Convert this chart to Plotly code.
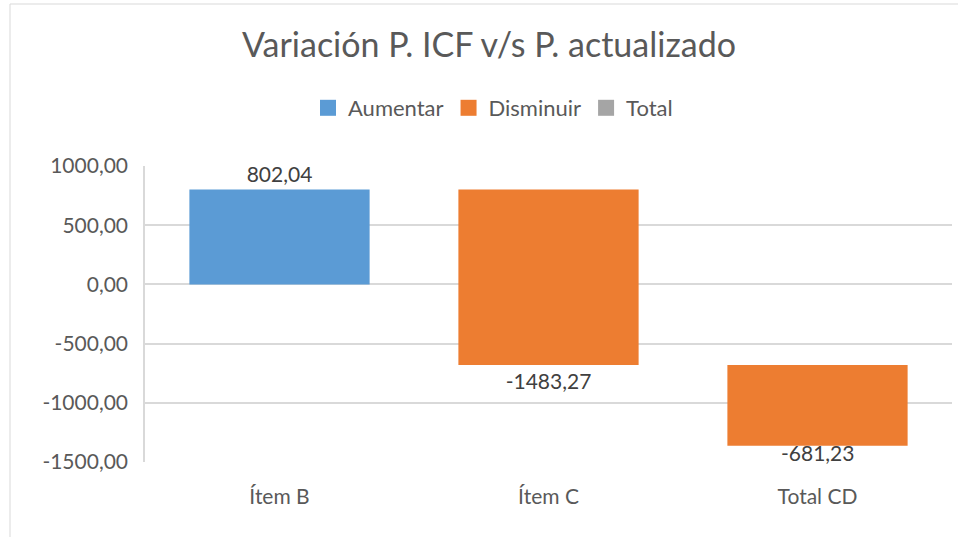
import plotly.graph_objects as go

categories = ["Ítem B", "Ítem C", "Total CD"]
changes = [802.04, -1483.27, -681.23]
series_names = ["Aumentar", "Disminuir", "Total"]
colors = {"Aumentar": "#5B9BD5", "Disminuir": "#ED7D31", "Total": "#A5A5A5"}
y_ticks = [1000, 500, 0, -500, -1000, -1500]

# running base for each step
bases = []
run = 0.0
for v in changes:
    bases.append(run)
    run += v

def fmt(v):
    return f"{v:.2f}".replace(".", ",")

FONT = "Lato"
TXT = "#595959"
LBL = "#404040"

fig = go.Figure()
inc_idx = [i for i, v in enumerate(changes) if v >= 0]
dec_idx = [i for i, v in enumerate(changes) if v < 0]
last = len(changes) - 1

fig.add_trace(go.Bar(
    name="Aumentar", showlegend=False,
    x=[categories[i] for i in inc_idx],
    y=[changes[i] for i in inc_idx],
    base=[bases[i] for i in inc_idx],
    text=[fmt(changes[i]) for i in inc_idx],
    textposition="outside", cliponaxis=False,
    textfont=dict(family=FONT, size=21, color=LBL),
    marker=dict(color=colors["Aumentar"], line=dict(width=0)),
    width=0.67,
))
fig.add_trace(go.Bar(
    name="Disminuir", showlegend=False,
    x=[categories[i] for i in dec_idx],
    y=[changes[i] for i in dec_idx],
    base=[bases[i] for i in dec_idx],
    text=[fmt(changes[i]) if i != last else "" for i in dec_idx],
    textposition="outside", cliponaxis=False,
    textfont=dict(family=FONT, size=21, color=LBL),
    marker=dict(color=colors["Disminuir"], line=dict(width=0)),
    width=0.67,
))
# legend-only entries
for name in series_names:
    fig.add_trace(go.Scatter(
        name=name, x=[categories[0]], y=[None], mode="markers",
        marker=dict(symbol="square", size=20, color=colors[name]),
        showlegend=True,
    ))

W, H = 958, 537
L, R, T, B = 145, 6, 166, 75
pw, ph = W - L - R, H - T - B

def px_x(x):
    return (x - L) / pw

def px_y(y):
    return (H - B - y) / ph

fig.update_layout(
    width=W, height=H,
    margin=dict(l=L, r=R, t=T, b=B),
    paper_bgcolor="white", plot_bgcolor="white",
    barmode="overlay",
    separators=",.",
    font=dict(family=FONT, size=21, color=TXT),
    title=dict(text="Variación P. ICF v/s P. actualizado",
               font=dict(family=FONT, size=34, color=TXT),
               x=px_x(489), xref="paper", xanchor="center",
               y=1 - 45 / H, yref="container", yanchor="middle"),
    legend=dict(orientation="h", x=px_x(493), xanchor="center",
                y=px_y(108), yanchor="middle",
                font=dict(family=FONT, size=22, color=TXT),
                traceorder="normal", itemwidth=30),
    showlegend=True,
    xaxis=dict(type="category", categoryorder="array", categoryarray=categories,
               showgrid=False, showline=False, zeroline=False,
               tickfont=dict(family=FONT, size=21, color=TXT),
               ticks="", ticklabelstandoff=20),
    yaxis=dict(range=[-1500, 1000], tickvals=y_ticks,
               ticktext=[fmt(v) for v in y_ticks],
               showgrid=True, gridcolor="#D9D9D9", gridwidth=1.5,
               zeroline=True, zerolinecolor="#D9D9D9", zerolinewidth=1.5,
               showline=True, linecolor="#D9D9D9", linewidth=1.5,
               tickfont=dict(family=FONT, size=21, color=TXT),
               ticks="", ticklabelstandoff=11),
    annotations=[dict(
        x=categories[last], y=bases[last] + changes[last],
        xref="x", yref="y", text=fmt(changes[last]), showarrow=False,
        yanchor="middle", yshift=-7,
        font=dict(family=FONT, size=21, color=LBL),
    )],
    shapes=[
        dict(type="line", xref="paper", yref="paper",
             x0=px_x(10), x1=px_x(10), y0=px_y(H), y1=px_y(4),
             line=dict(color="#D9D9D9", width=1)),
        dict(type="line", xref="paper", yref="paper",
             x0=px_x(10), x1=px_x(W), y0=px_y(4), y1=px_y(4),
             line=dict(color="#D9D9D9", width=1)),
    ],
)

fig.write_html(
    "out.html",
    config={"displayModeBar": False},
    post_script="document.body.style.margin='0';document.body.style.overflow='hidden';",
)
